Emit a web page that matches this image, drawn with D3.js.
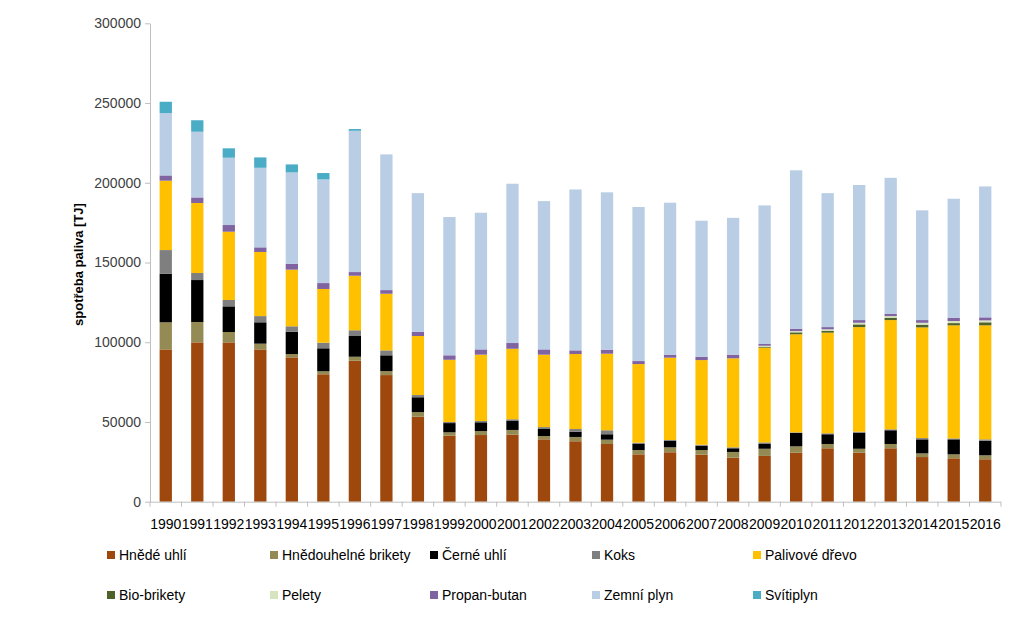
<!DOCTYPE html>
<html><head><meta charset="utf-8">
<script src="https://cdn.jsdelivr.net/npm/d3@7"></script>
<style>
html,body{margin:0;padding:0;background:#fff;}
svg{display:block;font-family:"Liberation Sans",Arial,sans-serif;}
</style>
</head><body>
<svg id="chart" width="1023" height="622"></svg>
<script>
const years = ["1990","1991","1992","1993","1994","1995","1996","1997","1998","1999","2000","2001","2002","2003","2004","2005","2006","2007","2008","2009","2010","2011","2012","2013","2014","2015","2016"];
const seriesNames = ["Hnědé uhlí","Hnědouhelné brikety","Černé uhlí","Koks","Palivové dřevo","Bio-brikety","Pelety","Propan-butan","Zemní plyn","Svítiplyn"];
const colors = ["#9E480E","#948A54","#000000","#7F7F7F","#FFC000","#4F6228","#D7E4BD","#8064A2","#B9CDE5","#4BACC6"];
const yTicks = [0,50000,100000,150000,200000,250000,300000];

const hnedeUhli      = [95500,99900,99900,95500,90500,79900,88400,79400,53300,41400,41800,42000,39100,37900,36200,29700,31000,29500,27600,28700,30700,33500,30700,33500,28000,27200,26600];
const hnedouhelneBr  = [17000,12800,6500,3600,2100,1900,2500,2500,2900,2100,2500,3000,2100,2700,2700,2700,3100,2900,3600,4500,4000,2700,2500,2700,2300,2500,2500];
const cerneUhli      = [30500,26300,16100,13400,14000,14400,13000,9900,9300,5800,5500,5600,4400,3300,3400,3800,4000,2700,2300,3000,8400,6100,10100,8600,8800,9400,9100];
const koks           = [14800,4400,4000,3900,3400,3500,3600,3100,1400,700,800,1100,1200,1700,2500,800,600,600,600,1000,400,600,600,600,800,600,900];
const palivoveDrevo  = [43500,43900,42800,40200,35500,33700,34200,35500,37000,39000,41600,44200,45400,47000,48000,49300,51600,53100,55800,59400,61500,63100,65600,68500,69400,70900,71500];
const bioBrikety     = [0,0,0,0,0,0,0,0,0,0,0,0,0,0,0,0,0,0,0,600,1200,1200,1700,1500,1700,1400,1900];
const pelety         = [0,0,0,0,0,0,0,0,0,0,0,0,0,0,0,0,0,0,0,600,800,900,1000,1000,1200,1300,1200];
const propanButan    = [3300,3500,4200,2900,3700,3700,2300,2300,2700,2800,3300,3600,3300,2300,2500,1900,1900,2100,2300,1100,1500,1400,1700,1300,1700,2100,1900];
const zemniPlyn      = [39100,41200,42200,49900,57300,65000,88600,85100,86900,86700,85700,99900,93000,100900,98700,96600,95300,85300,85800,86900,99300,84000,84700,85400,68800,74600,82100];
const svitiplyn      = [7100,7200,5900,6500,5000,4000,1100,0,0,0,0,0,0,0,0,0,0,0,0,0,0,0,0,0,0,0,0];

const seriesValues = [hnedeUhli,hnedouhelneBr,cerneUhli,koks,palivoveDrevo,bioBrikety,pelety,propanButan,zemniPlyn,svitiplyn];

const rows = years.map((yr,i)=>{
  const r = {year:yr};
  seriesNames.forEach((s,k)=>{ r[s] = seriesValues[k][i]; });
  return r;
});

const svg = d3.select("#chart");
const plotLeft = 150, plotRight = 1001, plotTop = 23.3, plotBottom = 501.7;

const x = d3.scaleBand().domain(years).range([plotLeft,plotRight]).paddingInner(0.61).paddingOuter(0.305);
const y = d3.scaleLinear().domain([0,300000]).range([plotBottom,plotTop]);

const stacked = d3.stack().keys(seriesNames)(rows);

svg.append("g").selectAll("g.series").data(stacked).join("g")
  .attr("class","series")
  .attr("fill",(d,i)=>colors[i])
  .selectAll("rect").data(d=>d).join("rect")
  .attr("x",d=>x(d.data.year))
  .attr("width",x.bandwidth())
  .attr("y",d=>y(d[1]))
  .attr("height",d=>Math.max(0,y(d[0])-y(d[1])));

// Y axis
const yAxis = svg.append("g").attr("transform",`translate(${plotLeft},0)`)
  .call(d3.axisLeft(y).tickValues(yTicks).tickFormat(d3.format("d")).tickSize(5).tickSizeOuter(0));
yAxis.select(".domain").attr("stroke","#BFBFBF");
yAxis.selectAll(".tick line").attr("stroke","#BFBFBF");
yAxis.selectAll(".tick text").attr("fill","#404040").attr("font-size","14px").attr("x",-9)
  .attr("font-family","'Liberation Sans',Arial,sans-serif");

// X axis
const xAxis = svg.append("g").attr("transform",`translate(0,${plotBottom})`)
  .call(d3.axisBottom(x).tickSize(0).tickSizeOuter(0));
xAxis.select(".domain").attr("stroke","#BFBFBF").attr("d",`M${plotLeft},0.5H${plotRight}`);
xAxis.selectAll(".tick text").attr("fill","#000").attr("font-size","14px").attr("dy","0").attr("y",27)
  .attr("font-family","'Liberation Sans',Arial,sans-serif");
const boundaries = d3.range(years.length+1).map(i=>plotLeft + i*(plotRight-plotLeft)/years.length);
xAxis.selectAll("line.bt").data(boundaries).join("line").attr("class","bt")
  .attr("x1",d=>d).attr("x2",d=>d).attr("y1",0).attr("y2",5).attr("stroke","#BFBFBF");

// Y title
svg.append("text")
  .attr("transform",`translate(83,${(plotTop+plotBottom)/2+2}) rotate(-90)`)
  .attr("text-anchor","middle")
  .attr("font-size","13px").attr("font-weight","bold").attr("fill","#000")
  .text("spotřeba paliva [TJ]");

// Legend
const legX = [107,270,430,592,753];
const legY = [555,595];
const leg = svg.append("g");
seriesNames.forEach((s,i)=>{
  const col = i%5, row = Math.floor(i/5);
  const gx = legX[col], gy = legY[row];
  leg.append("rect").attr("x",gx).attr("y",gy-4).attr("width",8).attr("height",8).attr("fill",colors[i]);
  leg.append("text").attr("x",gx+12).attr("y",gy+5).attr("font-size","14px").attr("fill","#000").text(s);
});
</script>
</body></html>
